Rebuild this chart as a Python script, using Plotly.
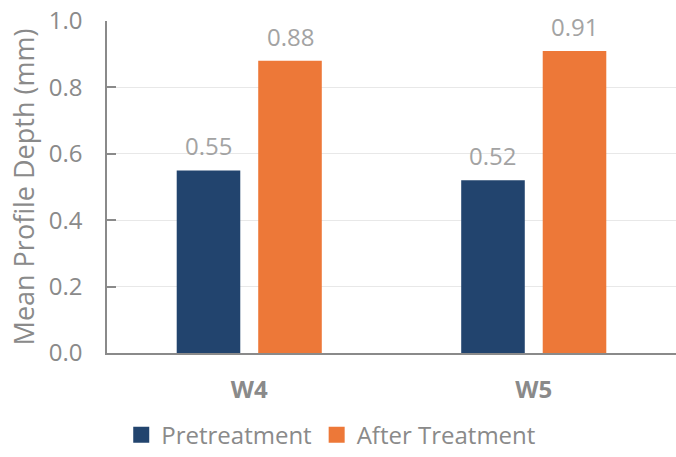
import plotly.graph_objects as go

# Mean profile depth per wheel-path section
categories = ["W4", "W5"]
pretreatment = [0.55, 0.52]
after_treatment = [0.88, 0.91]
series_names = ["Pretreatment", "After Treatment"]
y_ticks = [0.0, 0.2, 0.4, 0.6, 0.8, 1.0]

BLUE = "#22446E"
ORANGE = "#ED7838"
AXIS_GRAY = "#8A8A8A"
LABEL_GRAY = "#A3A3A3"
FONT = "Open Sans"

fig = go.Figure()
for name, vals, color in zip(series_names, [pretreatment, after_treatment], [BLUE, ORANGE]):
    fig.add_trace(go.Bar(name=name, x=categories, y=vals, legendgroup=name,
                         showlegend=False,
                         marker=dict(color=color, line=dict(width=0))))
    # square legend key
    fig.add_trace(go.Scatter(name=name, x=[None], y=[None], mode="markers",
                             legendgroup=name, showlegend=True,
                             marker=dict(symbol="square", size=16, color=color)))

# value labels above each bar
offsets = [-41, 41]
for series, dx in zip([pretreatment, after_treatment], offsets):
    for cat, val in zip(categories, series):
        fig.add_annotation(x=cat, y=val, text=f"{val:.2f}", showarrow=False,
                           xshift=dx, yanchor="bottom", yshift=6,
                           font=dict(family=FONT, size=24, color=LABEL_GRAY))

fig.update_layout(
    width=676, height=457,
    margin=dict(l=107, r=0, t=21, b=104),
    paper_bgcolor="white", plot_bgcolor="white",
    barmode="group", bargap=0.427, bargroupgap=0.22,
    font=dict(family=FONT, color=AXIS_GRAY),
    showlegend=True,
    legend=dict(orientation="h", xref="container", x=0.49, xanchor="center",
                yref="container", y=0.048, yanchor="middle",
                font=dict(family=FONT, size=24, color=AXIS_GRAY),
                itemsizing="trace", itemwidth=30, traceorder="normal"),
)

fig.update_xaxes(
    range=[-0.5, 1.5], showline=True, linecolor=AXIS_GRAY, linewidth=1.5,
    ticks="", showgrid=False, ticklabelstandoff=14,
    tickfont=dict(family=FONT, size=24, color=AXIS_GRAY, weight="bold"),
)
fig.update_yaxes(
    range=[0, 1.0], tickvals=y_ticks, tickformat=".1f",
    showline=True, linecolor=AXIS_GRAY, linewidth=1.5,
    ticks="inside", ticklen=9, tickcolor=AXIS_GRAY, tickwidth=1.5,
    showgrid=True, gridcolor="#E8E8E8", gridwidth=1.2, zeroline=False,
    ticklabelstandoff=18,
    tickfont=dict(family=FONT, size=24, color=AXIS_GRAY),
    title=dict(text="Mean Profile Depth (mm)", standoff=6,
               font=dict(family=FONT, size=27, color=AXIS_GRAY)),
)

fig.write_html("out.html")
